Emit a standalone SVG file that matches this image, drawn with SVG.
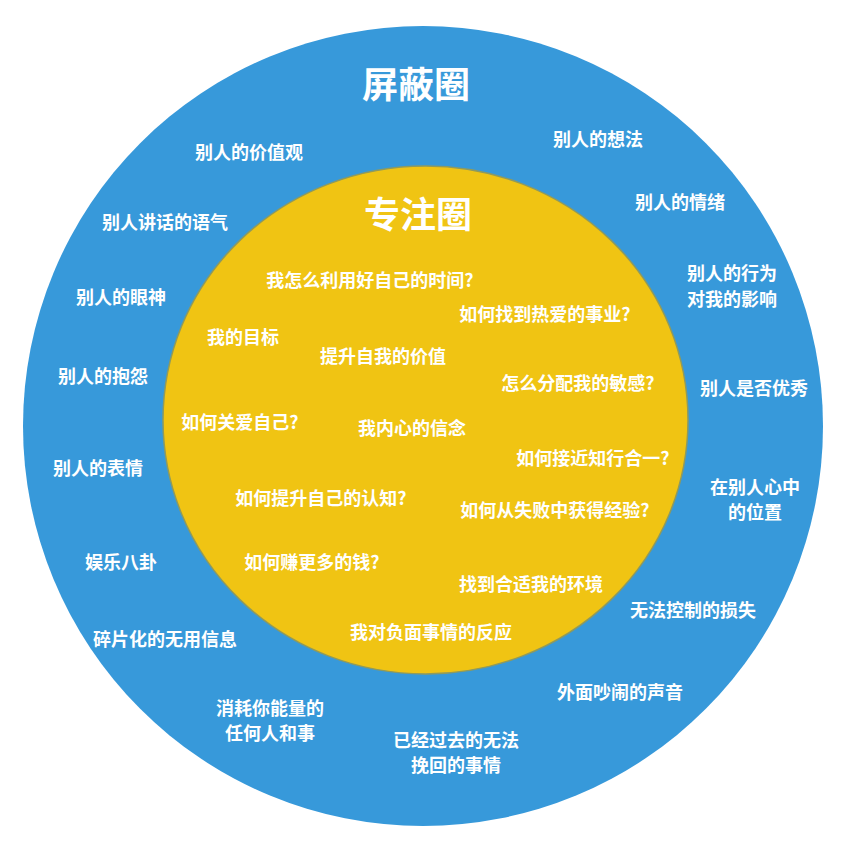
<svg xmlns="http://www.w3.org/2000/svg" width="846" height="852" viewBox="0 0 846 852">
<style>
text{font-family:"Noto Sans CJK SC","Noto Sans",sans-serif;font-weight:bold;fill:#ffffff;text-anchor:middle;dominant-baseline:central}
.l{font-size:18px}
.t{font-size:36px}
</style>
<rect width="846" height="852" fill="#ffffff"/>
<g id="outer">
<circle cx="423" cy="426" r="400" fill="#3799DA"/>
<text class="t" x="416" y="82">屏蔽圈</text>
</g>
<g id="inner">
<ellipse cx="425.5" cy="420" rx="262.5" ry="254" fill="#F0C413" stroke="#8E9A5E" stroke-width="1.5"/>
<text class="t" x="418" y="212">专注圈</text>
</g>
<g id="connectors"></g>
<g id="outer-labels">
<g id="o1"><text class="l" x="249" y="151">别人的价值观</text></g>
<g id="o2"><text class="l" x="598" y="138">别人的想法</text></g>
<g id="o3"><text class="l" x="680" y="201">别人的情绪</text></g>
<g id="o4"><text class="l" x="165" y="221">别人讲话的语气</text></g>
<g id="o5"><text class="l" x="732" y="272">别人的行为</text><text class="l" x="732" y="298">对我的影响</text></g>
<g id="o6"><text class="l" x="121" y="296">别人的眼神</text></g>
<g id="o7"><text class="l" x="754" y="387">别人是否优秀</text></g>
<g id="o8"><text class="l" x="103" y="375">别人的抱怨</text></g>
<g id="o9"><text class="l" x="98" y="467">别人的表情</text></g>
<g id="o10"><text class="l" x="755" y="486">在别人心中</text><text class="l" x="755" y="511">的位置</text></g>
<g id="o11"><text class="l" x="121" y="561">娱乐八卦</text></g>
<g id="o12"><text class="l" x="693" y="609">无法控制的损失</text></g>
<g id="o13"><text class="l" x="165" y="638">碎片化的无用信息</text></g>
<g id="o14"><text class="l" x="620" y="691">外面吵闹的声音</text></g>
<g id="o15"><text class="l" x="270" y="707">消耗你能量的</text><text class="l" x="270" y="732">任何人和事</text></g>
<g id="o16"><text class="l" x="456" y="739">已经过去的无法</text><text class="l" x="456" y="764">挽回的事情</text></g>
</g>
<g id="inner-labels">
<g id="i1"><text class="l" x="370" y="279">我怎么利用好自己的时间?</text></g>
<g id="i2"><text class="l" x="545" y="313">如何找到热爱的事业?</text></g>
<g id="i3"><text class="l" x="243" y="336">我的目标</text></g>
<g id="i4"><text class="l" x="383" y="355">提升自我的价值</text></g>
<g id="i5"><text class="l" x="578" y="382">怎么分配我的敏感?</text></g>
<g id="i6"><text class="l" x="240" y="421">如何关爱自己?</text></g>
<g id="i7"><text class="l" x="412" y="427">我内心的信念</text></g>
<g id="i8"><text class="l" x="593" y="457">如何接近知行合一?</text></g>
<g id="i9"><text class="l" x="321" y="497">如何提升自己的认知?</text></g>
<g id="i10"><text class="l" x="555" y="509">如何从失败中获得经验?</text></g>
<g id="i11"><text class="l" x="312" y="561">如何赚更多的钱?</text></g>
<g id="i12"><text class="l" x="531" y="583">找到合适我的环境</text></g>
<g id="i13"><text class="l" x="431" y="631">我对负面事情的反应</text></g>
</g>
</svg>
